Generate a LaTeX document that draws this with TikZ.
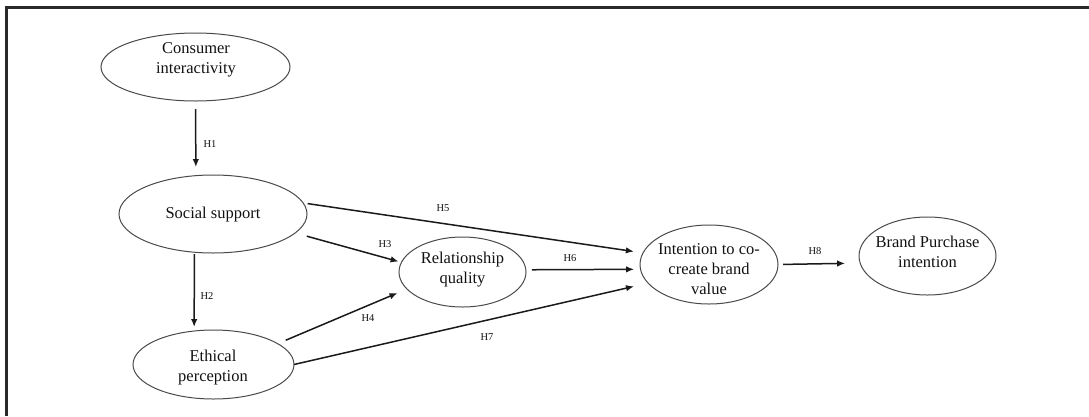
\documentclass[tikz,border=0pt]{standalone}
\usepackage{fontspec}
\setmainfont{Liberation Serif}
\usetikzlibrary{shapes.geometric,arrows.meta}
\definecolor{txtcol}{HTML}{111111}
\definecolor{ellgray}{HTML}{4A4A4A}
\definecolor{arrcol}{HTML}{1A1A1A}
\definecolor{framecol}{HTML}{2A2A2A}
\begin{document}
\begin{tikzpicture}[x=1pt,y=-1pt,
  ell/.style={ellipse, draw=ellgray, line width=1pt, inner sep=0pt, outer sep=0pt},
  lbl/.style={align=center, font=\fontsize{16.5}{20}\selectfont, text=txtcol, inner sep=0pt},
  hyp/.style={font=\fontsize{10.5}{12}\selectfont, text=txtcol, inner sep=0pt},
  arr/.style={line width=1.5pt, draw=arrcol, -{Latex[length=8pt,width=6.5pt]}},
]
\useasboundingbox (0,0) rectangle (1089,416);
\draw[line width=2.2pt, framecol] (6.5,416) -- (6.5,7.5) -- (1089,7.5);

% ellipses
\node[ell, minimum width=189pt, minimum height=68pt] (ci) at (195.5,67) {};
\node[ell, minimum width=188pt, minimum height=78pt] (ss) at (213,214) {};
\node[ell, minimum width=161pt, minimum height=69pt] (ep) at (213.5,364.5) {};
\node[ell, minimum width=127pt, minimum height=70pt] (rq) at (462.5,272) {};
\node[ell, minimum width=138pt, minimum height=79pt] (iv) at (709,264.5) {};
\node[ell, minimum width=137pt, minimum height=78pt] (bp) at (927.5,256) {};

% texts
\node[lbl] (cit) at (196,59.5) {Consumer\\interactivity};
\node[lbl] (sst) at (213,214.5) {Social support};
\node[lbl] (ept) at (213,367.5) {Ethical\\perception};
\node[lbl] (rqt) at (462.5,269.5) {Relationship\\quality};
\node[lbl] (ivt) at (709,269.5) {Intention to co-\\create brand\\value};
\node[lbl] (bpt) at (927.5,251.5) {Brand Purchase\\intention};

% connectors
\draw[arr, shorten <=8pt, shorten >=8.6pt] (ci.south) -- (ss.114);
\draw[arr, shorten <=2pt, shorten >=4pt] (ss.244) -- (ep.120);
\draw[arr, shorten <=12pt, shorten >=3pt] (ss.347) -- (rq.171);
\draw[arr, shorten <=8.7pt, shorten >=10.3pt] (ep.18) -- (rq.197);
\draw[arr, shorten <=4.5pt, shorten >=9.3pt] (ss.7) -- (iv.170);
\draw[arr, shorten <=6pt, shorten >=6.4pt] (rq.2) -- (iv.184);
\draw[arr, shorten >=14.5pt] (ep.0) -- (iv.197);
\draw[arr, shorten <=5pt, shorten >=15pt] (iv.0) -- (bp.186);

% hypothesis labels
\node[hyp] (h1) at (210,144) {H1};
\node[hyp] (h2) at (207,296) {H2};
\node[hyp] (h3) at (385,244) {H3};
\node[hyp] (h4) at (368,318) {H4};
\node[hyp] (h5) at (443,208) {H5};
\node[hyp] (h6) at (570,258) {H6};
\node[hyp] (h7) at (487,337) {H7};
\node[hyp] (h8) at (815,251) {H8};
\end{tikzpicture}
\end{document}
